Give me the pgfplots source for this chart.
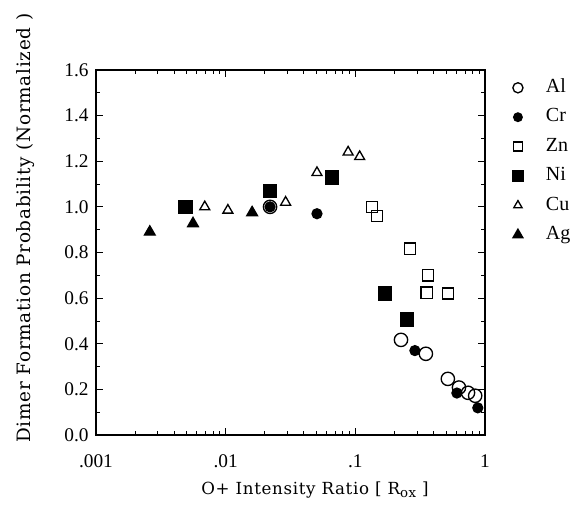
\documentclass[border=0pt]{standalone}
\usepackage{fontspec}
\setmainfont{Liberation Serif}
\newfontfamily\labfont[LetterSpace=4]{DejaVu Serif}
\usepackage{pgfplots}
\pgfplotsset{compat=1.18}
\begin{document}
\begin{tikzpicture}
\begin{axis}[
  width=291.75pt, height=273.75pt, scale only axis,
  xmode=log, xmin=0.001, xmax=1, ymin=0, ymax=1.6,
  xtick={0.001,0.01,0.1,1}, xticklabels={.001,.01,.1,1},
  ytick={0,0.2,...,1.6}, minor y tick num=1,
  yticklabel style={/pgf/number format/fixed, /pgf/number format/fixed zerofill, /pgf/number format/precision=1},
  /pgf/number format/assume math mode=true,
  tick align=inside, tick style={black, line width=0.6pt},
  major tick length=5pt, minor tick length=3pt,
  axis line style={line width=1pt},
  ticklabel style={font=\fontsize{14.5}{16}\selectfont},
  xticklabel style={yshift=-11pt},
  yticklabel style={xshift=-2pt},
  xlabel={\labfont O+ Intensity Ratio [ R{\raisebox{-0.35ex}{\fontsize{10}{10}\selectfont ox}} ]},
  ylabel={\fontsize{13.8}{15}\selectfont\labfont Dimer Formation Probability (Normalized )},
  label style={font=\fontsize{12.5}{14}\selectfont},
  xlabel style={at={(rel axis cs:0.563,-0.152)}, anchor=center},
  ylabel style={at={(rel axis cs:-0.182,0.567)}, anchor=center},
  legend style={at={(rel axis cs:1.060,0.983)}, anchor=north west, draw=none, fill=none,
    font=\fontsize{15}{16}\selectfont, row sep=9.05pt, column sep=17pt,
    nodes={inner sep=0pt, text height=10pt, text depth=3pt}},
  legend cell align=left,
  every axis plot/.append style={only marks, black, line width=1pt},
]
\addplot[mark=o, mark size=5pt, legend image post style={mark size=3.8pt}] coordinates {
 (0.022,1.0) (0.225,0.417) (0.35,0.356) (0.517,0.246) (0.63,0.208) (0.74,0.185) (0.84,0.172)};
\addlegendentry{Al}
\addplot[mark=*, mark size=3.7pt, legend image post style={mark size=3.2pt}] coordinates {
 (0.022,1.0) (0.0506,0.97) (0.288,0.37) (0.607,0.184) (0.88,0.119)};
\addlegendentry{Cr}
\addplot[mark=square, mark size=4.2pt, legend image post style={mark size=3.4pt}] coordinates {
 (0.134,1.0) (0.147,0.96) (0.264,0.817) (0.363,0.70) (0.355,0.624) (0.517,0.62)};
\addlegendentry{Zn}
\addplot[mark=square*, mark size=5pt, legend image post style={mark size=4pt}] coordinates {
 (0.0049,1.0) (0.022,1.07) (0.066,1.13) (0.169,0.62) (0.25,0.505)};
\addlegendentry{Ni}
\addplot[mark=triangle, mark size=4.3pt, legend image post style={mark size=3.6pt}] coordinates {
 (0.0069,1.0) (0.0104,0.985) (0.029,1.02) (0.0506,1.15) (0.088,1.24) (0.108,1.22)};
\addlegendentry{Cu}
\addplot[mark=triangle*, mark size=4.6pt, legend image post style={mark size=4.2pt}] coordinates {
 (0.0026,0.89) (0.0056,0.927) (0.016,0.975)};
\addlegendentry{Ag}
\end{axis}
\pgfresetboundingbox
\path (-72pt,-60.75pt) rectangle (363.75pt,326.25pt);
\end{tikzpicture}
\end{document}
